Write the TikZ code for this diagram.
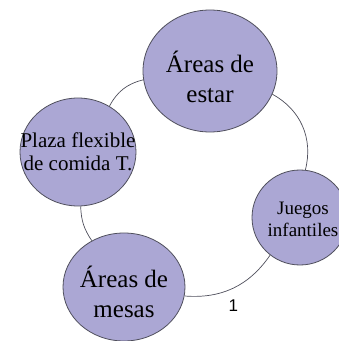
\documentclass[tikz,border=0pt]{standalone}
\usepackage{fontspec}
\setmainfont{Liberation Serif}
\newfontfamily\numfont{Liberation Sans}
\usepackage{tikz}
\usetikzlibrary{shapes.geometric}
\definecolor{lila}{HTML}{ABA7D4}
\definecolor{rand}{HTML}{4F4F5C}

\begin{document}
\begin{tikzpicture}[x=1pt,y=1pt,
    el/.style={ellipse,draw=rand,line width=0.8pt,fill=lila,inner sep=0pt},
    txt/.style={align=center,inner sep=0pt},
    ln/.style={draw=rand,line width=0.7pt}
]
\useasboundingbox (0,0) rectangle (339,341);
\coordinate (c-estar) at (210,270);
\coordinate (c-juegos) at (300,123.5);
\coordinate (c-mesas) at (124,54);
\coordinate (c-plaza) at (78,189);
\node[el,minimum width=134pt,minimum height=122pt] (estar) at (c-estar) {};
\node[el,minimum width=96pt,minimum height=95pt] (juegos) at (c-juegos) {};
\node[el,minimum width=122pt,minimum height=108pt] (mesas) at (c-mesas) {};
\node[el,minimum width=116pt,minimum height=108pt] (plaza) at (c-plaza) {};
% ring between the ellipses
\draw[ln] (estar) to[bend left=38] (juegos);
\draw[ln] (juegos) to[bend left=30] node[pos=0.5,below=8pt,font=\numfont\fontsize{17}{20}\selectfont]{1} (mesas);
\draw[ln] (mesas) to[bend left=16] (plaza);
\draw[ln] (plaza) to[bend left=24] (estar);
\node[txt,font=\fontsize{25}{30}\selectfont] (estar-t) at ([yshift=-6pt]c-estar) {Áreas de\\estar};
\node[txt,font=\fontsize{19}{22}\selectfont] (juegos-t) at ([xshift=3pt,yshift=-1.5pt]c-juegos) {Juegos\\infantiles};
\node[txt,font=\fontsize{25}{30}\selectfont] (mesas-t) at ([yshift=-5pt]c-mesas) {Áreas de\\mesas};
\node[txt,font=\fontsize{21}{23}\selectfont] (plaza-t) at (c-plaza) {Plaza flexible\\de comida T.};
\end{tikzpicture}
\end{document}
